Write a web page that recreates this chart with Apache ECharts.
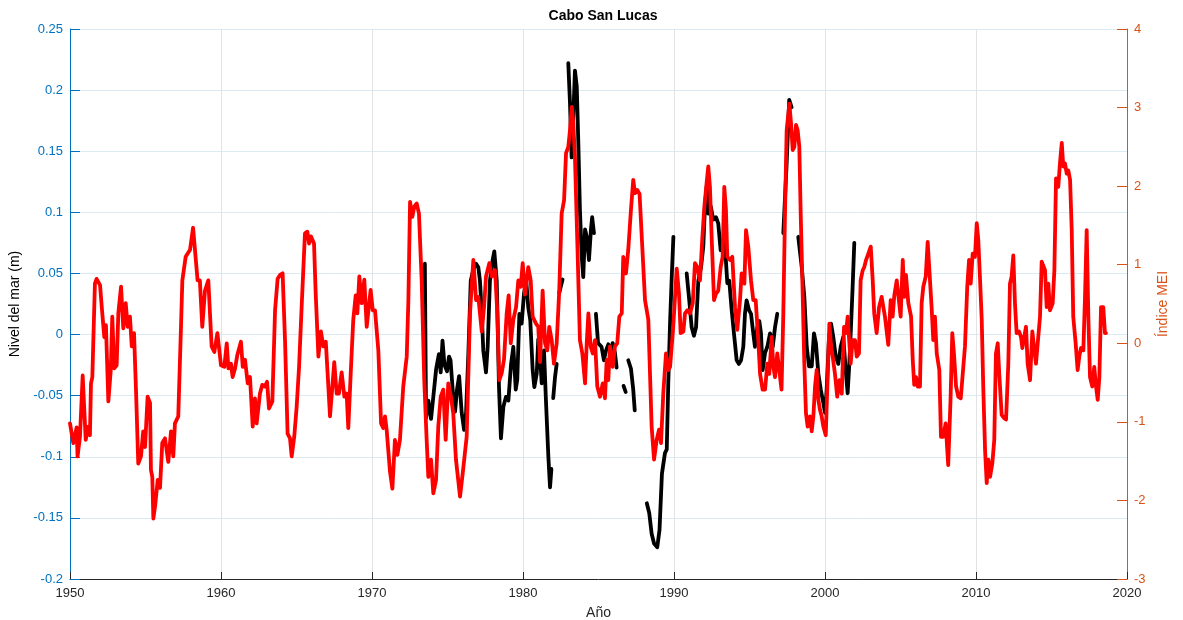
<!DOCTYPE html>
<html>
<head>
<meta charset="utf-8">
<script src="https://cdn.jsdelivr.net/npm/echarts@6/dist/echarts.min.js"></script>
<style>
html,body{margin:0;padding:0;background:#fff;}
#chart{width:1183px;height:620px;}
</style>
</head>
<body>
<div id="chart"></div>
<script>
const title = "Cabo San Lucas";
const xName = "Año";
const leftName = "Nivel del mar (m)";
const rightName = "Índice MEI";

// MEI index (red, right axis)
const meiYears = [
1950.0,1950.11,1950.22,1950.44,1950.5,1950.66,1950.84,1951.04,1951.21,1951.32,1951.39,1951.48,1951.65,1951.76,1951.99,
1952.1,1952.27,1952.38,1952.54,1952.7,1952.8,1952.93,1953.09,1953.2,1953.38,1953.53,1953.69,1953.82,1953.97,
1954.09,1954.24,1954.37,1954.52,1954.7,1954.85,1954.97,1955.14,1955.3,1955.36,1955.45,1955.52,1955.63,1955.81,1955.96,
1956.11,1956.29,1956.51,1956.69,1956.84,1956.95,1957.17,1957.35,1957.44,1957.57,1957.66,1957.95,1958.15,1958.28,
1958.45,1958.6,1958.76,1958.94,1959.16,1959.38,1959.56,1959.76,1960.0,1960.22,1960.38,1960.49,1960.66,1960.77,1960.93,
1961.08,1961.32,1961.44,1961.59,1961.77,1961.92,1962.1,1962.25,1962.36,1962.58,1962.73,1962.91,1963.05,1963.18,1963.4,
1963.58,1963.75,1963.91,1964.08,1964.24,1964.41,1964.57,1964.68,1964.85,1965.01,1965.17,1965.34,1965.56,1965.72,1965.83,
1965.96,1966.16,1966.27,1966.45,1966.62,1966.78,1966.94,1967.08,1967.22,1967.33,1967.5,1967.66,1967.81,1967.99,1968.17,
1968.32,1968.43,1968.61,1968.76,1968.92,1969.03,1969.16,1969.32,1969.49,1969.65,1969.76,1969.91,1970.05,1970.2,1970.42,
1970.6,1970.75,1970.86,1970.97,1971.19,1971.35,1971.52,1971.68,1971.85,1972.07,1972.3,1972.41,1972.52,1972.67,1972.8,
1972.96,1973.11,1973.29,1973.46,1973.62,1973.73,1973.91,1974.06,1974.24,1974.39,1974.55,1974.72,1974.88,1975.05,1975.23,
1975.38,1975.56,1975.83,1976.01,1976.27,1976.49,1976.71,1976.89,1977.04,1977.27,1977.42,1977.55,1977.77,1977.93,1978.15,
1978.3,1978.43,1978.59,1978.74,1978.92,1979.05,1979.19,1979.36,1979.54,1979.69,1979.85,1979.98,1980.13,1980.35,1980.51,
1980.64,1980.86,1981.01,1981.13,1981.3,1981.46,1981.61,1981.74,1981.9,1982.05,1982.23,1982.4,1982.56,1982.72,1982.85,
1983.0,1983.11,1983.23,1983.33,1983.44,1983.6,1983.77,1983.93,1984.11,1984.22,1984.33,1984.48,1984.62,1984.77,1984.92,
1985.1,1985.28,1985.43,1985.54,1985.65,1985.76,1985.94,1986.09,1986.24,1986.38,1986.54,1986.64,1986.82,1986.97,1987.15,
1987.3,1987.42,1987.57,1987.72,1987.88,1988.08,1988.3,1988.52,1988.68,1988.85,1989.01,1989.14,1989.29,1989.47,1989.62,
1989.74,1989.95,1990.18,1990.33,1990.44,1990.62,1990.73,1990.88,1991.06,1991.24,1991.39,1991.54,1991.72,1991.87,1992.01,
1992.16,1992.27,1992.38,1992.5,1992.65,1992.78,1992.93,1993.09,1993.22,1993.33,1993.44,1993.53,1993.71,1993.86,1994.04,
1994.19,1994.37,1994.48,1994.66,1994.77,1994.92,1995.1,1995.25,1995.41,1995.58,1995.7,1995.87,1996.03,1996.18,1996.31,
1996.47,1996.58,1996.69,1996.84,1996.97,1997.12,1997.24,1997.35,1997.46,1997.64,1997.75,1997.86,1997.97,1998.08,1998.19,
1998.3,1998.39,1998.5,1998.63,1998.74,1998.85,1999.0,1999.12,1999.23,1999.34,1999.45,1999.56,1999.67,1999.78,1999.89,
2000.05,2000.18,2000.29,2000.4,2000.51,2000.66,2000.81,2000.95,2001.11,2001.26,2001.39,2001.5,2001.61,2001.7,2001.83,
2001.99,2002.1,2002.25,2002.36,2002.5,2002.6,2002.72,2002.87,2003.03,2003.16,2003.26,2003.42,2003.58,2003.75,2003.87,
2003.97,2004.19,2004.35,2004.48,2004.59,2004.75,2004.85,2005.01,2005.15,2005.25,2005.36,2005.52,2005.7,2005.81,2005.91,
2006.03,2006.14,2006.29,2006.4,2006.51,2006.67,2006.8,2006.9,2007.06,2007.17,2007.28,2007.4,2007.57,2007.68,2007.83,
2007.99,2008.16,2008.32,2008.43,2008.54,2008.68,2008.83,2008.99,2009.12,2009.27,2009.42,2009.54,2009.65,2009.78,2009.93,
2010.05,2010.15,2010.26,2010.38,2010.48,2010.6,2010.71,2010.82,2010.93,2011.08,2011.21,2011.32,2011.44,2011.54,2011.7,
2011.85,2011.99,2012.14,2012.25,2012.36,2012.47,2012.58,2012.69,2012.85,2012.98,2013.07,2013.18,2013.31,2013.42,2013.58,
2013.73,2013.84,2013.97,2014.09,2014.24,2014.35,2014.46,2014.57,2014.68,2014.79,2014.9,2015.08,2015.19,2015.3,2015.45,
2015.56,2015.68,2015.78,2015.89,2016.01,2016.11,2016.23,2016.34,2016.44,2016.6,2016.73,2016.84,2016.95,2017.11,2017.22,
2017.33,2017.44,2017.55,2017.7,2017.83,2017.95,2018.06,2018.17,2018.28,2018.43,2018.54,2018.61
];
const meiValues = [
-1.02,-1.04,-1.27,-1.07,-1.44,-1.19,-0.41,-1.23,-1.06,-1.17,-0.51,-0.43,0.76,0.82,0.74,
0.47,0.08,0.23,-0.74,-0.34,0.34,-0.32,-0.28,0.38,0.72,0.19,0.51,0.21,0.34,
-0.04,0.13,-0.59,-1.53,-1.44,-1.12,-1.32,-0.68,-0.76,-1.61,-1.70,-2.23,-2.08,-1.74,-1.84,
-1.27,-1.21,-1.51,-1.12,-1.44,-1.02,-0.93,0.21,0.80,0.82,1.10,1.19,1.47,1.46,
0.80,0.80,0.21,0.67,0.80,-0.04,-0.11,0.13,-0.28,-0.30,0.0,-0.32,-0.26,-0.43,-0.32,
-0.15,0.02,-0.30,-0.21,-0.51,-0.43,-1.06,-0.70,-1.02,-0.64,-0.53,-0.55,-0.49,-0.83,-0.74,
0.42,0.82,0.87,0.89,0.04,-1.15,-1.21,-1.44,-1.19,-0.81,-0.30,0.46,1.40,1.42,1.27,
1.36,1.27,0.64,-0.17,0.15,-0.04,0.02,-0.45,-0.93,-0.95,-0.24,-0.64,-0.64,-0.37,-0.68,
-0.64,-1.08,-0.30,0.30,0.61,0.38,0.85,0.51,0.81,0.21,0.21,0.68,0.42,0.42,-0.09,
-1.02,-1.08,-0.93,-1.10,-1.63,-1.85,-1.23,-1.42,-1.23,-0.55,-0.17,0.55,1.80,1.61,1.74,
1.78,1.65,0.80,-0.47,-1.23,-1.70,-1.48,-1.91,-1.74,-1.06,-0.68,-0.59,-1.23,-0.51,-0.68,
-0.89,-1.48,-1.95,-1.65,-1.19,0.38,1.06,0.55,0.59,0.15,0.46,0.85,1.02,0.85,0.93,
0.38,-0.47,-0.38,-0.21,0.38,0.61,0.0,0.30,0.46,0.80,0.72,1.02,0.62,0.97,0.80,
0.34,0.25,0.21,-0.24,0.67,0.0,-0.09,0.21,0.04,-0.26,0.0,0.67,1.65,1.82,2.42,
2.50,2.71,3.01,2.80,2.37,1.27,0.04,-0.13,-0.51,0.0,0.38,-0.04,-0.13,0.04,-0.55,
-0.68,-0.51,-0.70,-0.21,-0.47,-0.04,-0.30,-0.04,0.0,0.34,0.38,1.10,0.89,1.19,1.70,
2.08,1.91,1.95,1.90,1.30,0.55,0.30,-1.06,-1.48,-1.23,-1.10,-1.27,-0.64,-0.13,-0.34,
-0.30,0.21,0.95,0.63,0.13,0.15,0.38,0.42,0.38,0.51,1.02,0.97,0.80,1.32,1.74,
2.04,2.25,1.99,1.32,0.55,0.63,0.67,0.97,1.10,1.99,1.70,1.10,1.06,1.10,0.46,
0.17,0.55,0.89,0.76,1.44,1.23,0.80,0.55,0.55,0.04,-0.39,-0.59,-0.59,-0.26,-0.39,
0.08,-0.30,-0.43,-0.13,-0.34,-0.59,0.38,1.65,2.71,3.05,2.80,2.46,2.50,2.78,2.71,
2.50,1.65,0.80,-0.26,-0.89,-1.06,-0.93,-1.12,-0.93,-0.55,-0.34,-0.72,-0.85,-0.93,-1.06,
-1.17,-1.15,0.25,-0.04,-0.17,-0.39,-0.68,-0.47,-0.64,0.21,0.13,0.34,0.34,-0.26,0.04,
0.04,-0.17,-0.13,0.80,0.93,0.97,1.06,1.14,1.23,0.80,0.38,0.13,0.46,0.59,0.57,
0.34,-0.02,0.55,0.34,0.61,0.80,0.82,0.34,1.06,0.59,0.87,0.51,0.34,-0.21,-0.53,
-0.43,-0.55,-0.55,0.51,0.72,0.85,1.29,0.97,0.46,0.04,0.34,-0.13,-0.34,-1.19,-1.19,
-1.02,-1.55,-0.68,0.13,-0.13,-0.55,-0.68,-0.70,-0.70,-0.04,0.72,1.06,0.76,1.14,1.10,
1.53,1.32,0.85,0.30,-0.55,-1.36,-1.78,-1.48,-1.70,-1.53,-1.23,-0.13,0.0,-0.39,-0.91,
-0.95,-0.97,-0.26,0.76,0.85,1.12,0.51,0.13,0.15,0.08,-0.06,-0.04,0.21,-0.26,-0.47,
0.15,-0.04,-0.26,-0.26,0.34,1.04,1.02,0.93,0.46,0.76,0.42,0.51,0.93,2.10,1.99,
2.29,2.55,2.25,2.29,2.16,2.20,2.08,1.44,0.34,0.0,-0.34,-0.17,-0.06,-0.09,0.59,
1.44,0.34,-0.43,-0.55,-0.30,-0.55,-0.72,-0.43,0.46,0.46,0.13,0.13
];

// Sea level (black, left axis); null = gap in the record
const slYears = [
1973.5,1973.58,1973.73,1973.91,1974.06,1974.25,1974.43,1974.55,1974.67,1974.8,1974.97,1975.1,1975.2,1975.36,1975.5,
1975.63,1975.77,1975.94,1976.1,1976.23,1976.38,1976.54,1976.71,1976.89,1977.04,1977.15,1977.26,1977.37,1977.55,1977.66,
1977.81,1977.99,1978.1,1978.26,1978.41,1978.54,1978.7,1978.87,1979.03,1979.21,1979.36,1979.52,1979.62,1979.76,1979.91,
1980.07,1980.22,1980.35,1980.48,1980.64,1980.75,1980.91,1981.01,1981.13,1981.24,1981.39,1981.52,1981.68,1981.79,1981.88,
1981.94,
1982.0,1982.12,1982.23,1982.3,
1982.4,1982.52,1982.62,1982.8,
1983.0,1983.11,1983.22,1983.33,1983.44,1983.56,1983.66,1983.77,1983.89,1983.99,1984.11,1984.22,1984.37,1984.5,1984.58,1984.7,1984.76,
1984.83,1984.97,1985.1,1985.2,1985.36,1985.5,1985.65,1985.81,1985.94,1986.09,1986.2,1986.4,
1986.66,1986.8,1986.88,
1986.97,1987.15,1987.3,1987.4,1987.8,
1988.2,1988.36,1988.52,1988.68,1988.89,1989.04,1989.2,1989.4,1989.52,1989.62,1989.74,1989.86,1989.96,1990.4,
1990.84,1991.01,1991.17,1991.32,1991.46,1991.61,1991.79,1991.94,1992.05,1992.16,1992.27,1992.43,1992.6,1992.78,1992.93,
1993.09,1993.23,1993.38,1993.53,1993.66,1993.82,1993.97,1994.15,1994.3,1994.44,1994.59,1994.7,1994.81,1994.97,1995.1,
1995.25,1995.36,1995.52,1995.65,1995.76,1995.87,1996.03,1996.18,1996.36,1996.54,1996.69,1996.84,1997.0,
1997.24,1997.46,1997.63,1997.79,1998.0,
1998.23,1998.46,1998.63,1998.79,1998.94,1999.12,1999.27,1999.4,1999.56,1999.72,1999.89,2000.0,2000.11,2000.26,2000.4,
2000.55,2000.71,2000.88,2001.04,2001.21,2001.37,2001.5,2001.61,2001.72,2001.83,2001.94
];
const slValues = [
0.058,-0.068,-0.054,-0.069,-0.051,-0.028,-0.016,-0.031,-0.005,-0.025,-0.030,-0.018,-0.021,-0.048,-0.063,
-0.045,-0.034,-0.064,-0.078,-0.064,-0.016,0.044,0.053,0.058,0.055,0.044,0.020,-0.013,-0.031,-0.010,
0.044,0.061,0.068,0.044,-0.043,-0.085,-0.059,-0.051,-0.054,-0.024,-0.010,-0.045,-0.037,0.017,0.009,
0.034,0.043,0.022,0.012,-0.029,-0.043,-0.032,-0.004,-0.018,-0.040,-0.013,-0.054,-0.100,-0.125,-0.110,
null,
-0.052,-0.035,-0.024,null,
0.034,0.040,0.045,null,
0.222,0.190,0.145,0.178,0.216,0.203,0.159,0.102,0.064,0.047,0.086,0.080,0.061,0.086,0.096,0.083,null,
0.017,-0.007,-0.007,-0.010,-0.021,-0.013,-0.008,-0.013,-0.007,-0.015,-0.027,null,
-0.042,-0.047,null,
-0.021,-0.028,-0.045,-0.062,null,
-0.138,-0.146,-0.163,-0.171,-0.174,-0.160,-0.114,-0.097,-0.094,-0.040,0.010,0.050,0.080,null,
0.050,0.028,0.006,-0.001,0.006,0.044,0.055,0.072,0.105,0.121,0.099,0.105,0.094,0.096,0.091,
0.069,0.077,0.072,0.042,0.044,0.020,0.001,-0.021,-0.024,-0.021,-0.010,0.017,0.028,0.020,0.017,
0.001,-0.010,0.006,0.011,0.001,-0.029,-0.015,-0.010,0.001,-0.010,0.006,0.017,null,
0.083,0.140,0.192,0.186,null,
0.080,0.055,0.031,-0.010,-0.026,-0.026,0.001,-0.007,-0.032,-0.045,-0.056,-0.064,-0.045,-0.004,0.009,
-0.002,-0.018,-0.024,-0.010,-0.002,-0.029,-0.048,-0.024,0.006,0.039,0.075
];

const xTicks = {min: 1950, max: 2020, step: 10};
const leftTicks = {min: -0.2, max: 0.25, step: 0.05};
const rightTicks = {min: -3, max: 4, step: 1};

const meiData = meiYears.map((y, i) => [y, meiValues[i]]);
const slData = slYears.map((y, i) => [y, slValues[i] === null ? '-' : slValues[i]]);

const FONT = '"Liberation Sans", Arial, Helvetica, sans-serif';
const BLUE = '#0072BD';
const ORANGE = '#D95319';
const DARK = '#262626';

const chart = echarts.init(document.getElementById('chart'), null, {renderer: 'canvas'});
chart.setOption({
  animation: false,
  backgroundColor: '#ffffff',
  title: {
    text: title, left: 598, top: 4, textAlign: 'center',
    textStyle: {fontFamily: FONT, fontSize: 14, fontWeight: 'bold', color: '#000'}
  },
  grid: {left: 70, right: 56, top: 29, bottom: 41, containLabel: false, outerBoundsMode: 'none'},
  xAxis: {
    type: 'value', min: xTicks.min, max: xTicks.max, interval: xTicks.step,
    name: xName, nameLocation: 'middle', nameGap: 27,
    nameTextStyle: {fontFamily: FONT, fontSize: 14, color: DARK},
    axisLine: {show: true, onZero: false, lineStyle: {color: DARK, width: 1}},
    axisTick: {show: true, inside: true, length: 7, lineStyle: {color: DARK}},
    axisLabel: {fontFamily: FONT, fontSize: 13, color: DARK, margin: 8,
      formatter: v => String(Math.round(v))},
    splitLine: {show: true, lineStyle: {color: '#E3E3E3', width: 1}}
  },
  yAxis: [
    {
      type: 'value', position: 'left', min: leftTicks.min, max: leftTicks.max, interval: leftTicks.step,
      name: leftName, nameLocation: 'middle', nameGap: 45, nameRotate: 90,
      nameTextStyle: {fontFamily: FONT, fontSize: 14, color: '#000'},
      axisLine: {show: true, onZero: false, lineStyle: {color: BLUE, width: 1}},
      axisTick: {show: true, inside: true, length: 10, lineStyle: {color: BLUE}},
      axisLabel: {fontFamily: FONT, fontSize: 13, color: BLUE, margin: 7,
        formatter: v => String(+v.toFixed(2))},
      splitLine: {show: true, lineStyle: {color: '#DCEAF4', width: 1}}
    },
    {
      type: 'value', position: 'right', min: rightTicks.min, max: rightTicks.max, interval: rightTicks.step,
      name: rightName, nameLocation: 'middle', nameGap: 25, nameRotate: 90,
      nameTextStyle: {fontFamily: FONT, fontSize: 14, color: ORANGE},
      axisLine: {show: true, onZero: false, lineStyle: {color: ORANGE, width: 1}},
      axisTick: {show: true, inside: true, length: 10, lineStyle: {color: ORANGE}},
      axisLabel: {fontFamily: FONT, fontSize: 13, color: ORANGE, margin: 7,
        formatter: v => String(+v.toFixed(0))},
      splitLine: {show: false}
    }
  ],
  series: [
    {
      name: 'Nivel del mar', type: 'line', yAxisIndex: 0, data: slData,
      showSymbol: false, symbol: 'none', connectNulls: false, clip: true,
      lineStyle: {color: '#000000', width: 3.8, join: 'round', cap: 'round'},
      z: 2
    },
    {
      name: 'MEI', type: 'line', yAxisIndex: 1, data: meiData,
      showSymbol: false, symbol: 'none', clip: true,
      lineStyle: {color: '#FF0000', width: 3.8, join: 'round', cap: 'round'},
      z: 3
    }
  ]
});
</script>
</body>
</html>
